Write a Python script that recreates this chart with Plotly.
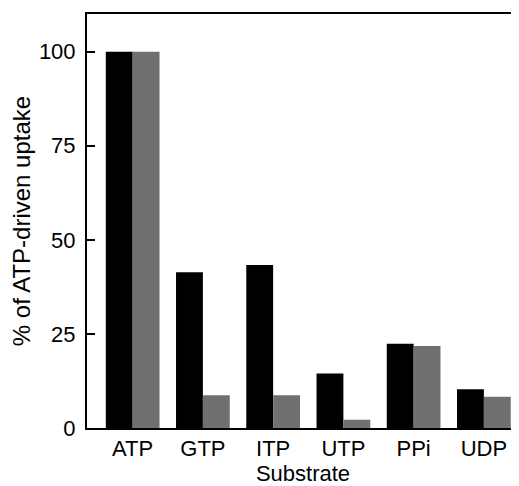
import plotly.graph_objects as go

categories = ["ATP", "GTP", "ITP", "UTP", "PPi", "UDP"]
series_black = [100, 41.4, 43.3, 14.5, 22.4, 10.3]
series_gray = [100, 8.7, 8.7, 2.2, 21.8, 8.3]
y_ticks = [0, 25, 50, 75, 100]

FONT = "Liberation Sans, Arial, sans-serif"

fig = go.Figure()
fig.add_trace(go.Bar(x=categories, y=series_black, marker=dict(color="#000000", line=dict(width=0)), showlegend=False))
fig.add_trace(go.Bar(x=categories, y=series_gray, marker=dict(color="#707070", line=dict(width=0)), showlegend=False))

# page body has an 8px margin, so the figure is offset by 8px
fig.update_layout(
    width=511, height=478,
    margin=dict(l=79, r=0, t=6, b=58),
    paper_bgcolor="white", plot_bgcolor="white",
    barmode="group", bargap=0.235, bargroupgap=0,
    font=dict(family=FONT, size=23, color="#000000"),
    xaxis=dict(
        type="category", range=[-0.65, 5.5],
        showline=True, linecolor="#000000", linewidth=2, mirror=True,
        ticks="", showgrid=False, zeroline=False,
        tickfont=dict(size=22),
        title=dict(text="Substrate", font=dict(size=22), standoff=4),
    ),
    yaxis=dict(
        range=[0, 110], tickvals=y_ticks,
        showline=True, linecolor="#000000", linewidth=2, mirror=False,
        ticks="inside", ticklen=8, tickwidth=2, tickcolor="#000000",
        showgrid=False, zeroline=False,
        tickfont=dict(size=22), ticklabelstandoff=5,
        title=dict(text="% of ATP-driven uptake", font=dict(size=24), standoff=8),
    ),
)

fig.write_html("out.html")
